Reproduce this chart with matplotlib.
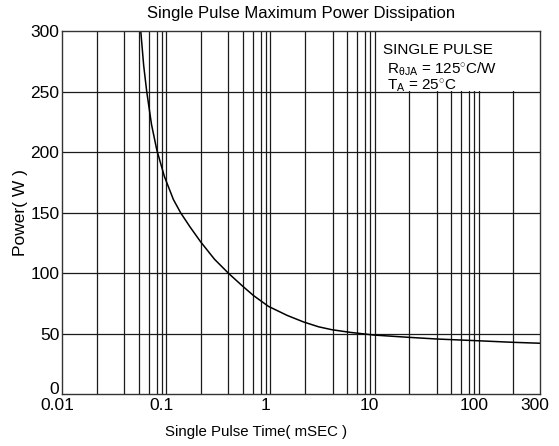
import matplotlib
matplotlib.use("Agg")
import matplotlib.pyplot as plt
import matplotlib.transforms as mtransforms
from matplotlib.patches import Rectangle

plt.rcParams['font.family'] = ['Liberation Sans', 'DejaVu Sans']
plt.rcParams['mathtext.fontset'] = 'custom'
plt.rcParams['mathtext.rm'] = 'Liberation Sans'
plt.rcParams['mathtext.it'] = 'Liberation Sans'

# ---- data ----
pulse_time_ms = [0.0568, 0.0605, 0.0648, 0.072, 0.0809, 0.0957, 0.1167, 0.137,
                 0.168, 0.213, 0.29, 0.394, 0.536, 0.686, 0.957, 1.45, 2.08,
                 2.9, 3.89, 5.84, 9.78, 21.2, 39.8, 96.5, 209, 388]
power_w = [300, 272, 250, 223, 202, 180, 161, 150,
           138.5, 126, 111.5, 100, 89.5, 81.5, 72.5, 65, 59.6,
           55.6, 53.2, 51.0, 48.8, 46.9, 45.5, 44.1, 42.8, 42.0]

x_decades = [0.01, 0.1, 1, 10, 100]
x_minor_mult = [2.15, 3.95, 5.4, 6.8, 8.1, 9.1]
x_tick_labels = ['0.01', '0.1', '1', '10', '100', '300']
y_ticks = [0, 50, 100, 150, 200, 250, 300]

title = 'Single Pulse Maximum Power Dissipation'
xlabel = 'Single Pulse Time( mSEC )'
ylabel = 'Power( W )'

XMAX = 388

fig = plt.figure(figsize=(5.59, 4.46), dpi=100)
ax = fig.add_axes([0.1114, 0.1166, 0.8546, 0.8128])
ax.set_xscale('log')
ax.set_xlim(0.01, XMAX)
ax.set_ylim(0, 300)

# vertical grid lines
vlines = []
for d in x_decades:
    vlines.append(d)
    for m in x_minor_mult:
        v = d * m
        if v < XMAX * 0.95:
            vlines.append(v)
for v in vlines:
    if v > 0.01:
        ax.axvline(v, color='#1a1a1a', lw=0.9, zorder=1)
for yv in y_ticks[1:-1]:
    ax.axhline(yv, color='#1a1a1a', lw=0.9, zorder=1)

# white box behind annotation
ax.add_patch(Rectangle((10.9, 250.5), XMAX - 10.9, 49.5, facecolor='white',
                       edgecolor='none', zorder=2))

ax.plot(pulse_time_ms, power_w, color='black', lw=1.1, zorder=3, clip_on=True)

for s in ax.spines.values():
    s.set_color('#333333')
    s.set_linewidth(1.0)
    s.set_zorder(4)

ax.set_xticks(x_decades + [XMAX])
ax.set_xticklabels(x_tick_labels)
ax.xaxis.set_minor_locator(matplotlib.ticker.NullLocator())
ax.set_yticks(y_ticks)
ax.set_yticklabels([str(v) for v in y_ticks])
ax.tick_params(axis='both', length=0, labelsize=12.5, colors='black')
ax.tick_params(axis='x', pad=3)
ax.tick_params(axis='y', pad=2)

offset = mtransforms.ScaledTranslation(-5 / 100, 0, fig.dpi_scale_trans)
for lab in ax.get_xticklabels():
    lab.set_transform(lab.get_transform() + offset)
yoff = mtransforms.ScaledTranslation(0, 6 / 100, fig.dpi_scale_trans)
ylabs = ax.get_yticklabels()
ylabs[0].set_transform(ylabs[0].get_transform() + yoff)

ax.set_title(title, fontsize=12, pad=10)
ax.set_xlabel(xlabel, fontsize=10.8, labelpad=7)
ax.xaxis.set_label_coords(0.405, -0.085)
ax.set_ylabel(ylabel, fontsize=12.5, labelpad=2)

ax.text(0.671, 0.95, 'SINGLE PULSE', transform=ax.transAxes, fontsize=11,
        va='center', ha='left', zorder=5)
ax.text(0.68, 0.897, r'R$_{\theta JA}$ = 125$^{\circ}$C/W', transform=ax.transAxes,
        fontsize=11, va='center', ha='left', zorder=5)
ax.text(0.68, 0.85, r'T$_{A}$ = 25$^{\circ}$C', transform=ax.transAxes,
        fontsize=11, va='center', ha='left', zorder=5)

fig.savefig('out.png', dpi=100)
